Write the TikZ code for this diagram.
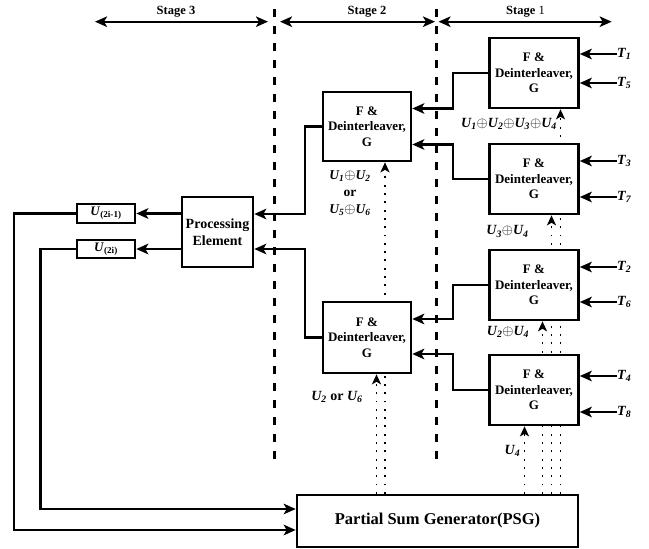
\documentclass[tikz,border=0pt]{standalone}
\usepackage{fontspec}
\setmainfont{Liberation Serif}
\usetikzlibrary{arrows.meta}
\pgfdeclarelayer{bg}
\pgfsetlayers{bg,main}
\newcommand\uu[1]{\textit{U}\textsubscript{#1}}
\newcommand\op{$\oplus$}
\begin{document}
\begin{tikzpicture}[x=1pt,y=-1pt,
  box/.style={draw,line width=2.6pt,fill=white,inner sep=0pt,align=center,
    font=\fontsize{13}{15.5}\selectfont\bfseries},
  fbox/.style={box,minimum width=89pt,minimum height=70pt},
  conn/.style={line width=2.3pt},
  arr/.style={conn,-{Stealth[length=12pt,width=10.5pt,inset=3pt]}},
  dotl/.style={line width=1.9pt,dash pattern=on 1.9pt off 6.4pt},
  darr/.style={dotl,-{Stealth[length=10pt,width=9pt,inset=2.5pt]}},
  lab/.style={inner sep=0pt,align=center,font=\fontsize{14}{15}\selectfont\bfseries\itshape},
  stg/.style={line width=2.4pt,{Stealth[length=12pt,width=10.5pt,inset=3pt]}-{Stealth[length=12pt,width=10.5pt,inset=3pt]}},
  stglab/.style={inner sep=0pt,font=\fontsize{12.5}{14}\selectfont\bfseries},
  dashl/.style={line width=2.6pt,dash pattern=on 8pt off 9pt}
]
\useasboundingbox (0,0) rectangle (649,549);

% stage markers
\coordinate (s3l) at (95,21.7);  \coordinate (s3r) at (268,21.7);
\coordinate (s2l) at (280,21.7); \coordinate (s2r) at (435,21.7);
\coordinate (s1l) at (438.5,21.7); \coordinate (s1r) at (611.7,21.7);
\draw[stg] (s3l) -- (s3r);
\draw[stg] (s2l) -- (s2r);
\draw[stg] (s1l) -- (s1r);
\node[stglab] (st3) at (176,12) {Stage 3};
\node[stglab] (st2) at (367,12) {Stage 2};
\node[stglab] (st1) at (525.5,12) {Stage {\mdseries 1}};

\coordinate (da) at (274.5,9);  \coordinate (db) at (274.5,461);
\coordinate (dc) at (436.7,9);  \coordinate (dd) at (436.7,461);
\draw[dashl] (da) -- (db);
\draw[dashl] (dc) -- (dd);

% stage 1 boxes
\node[box,minimum width=89pt,minimum height=70pt] (s1a) at (534,73) {F \&\\Deinterleaver,\\G};
\node[fbox] (s1b) at (534,179) {F \&\\Deinterleaver,\\G};
\node[fbox] (s1c) at (534,285) {F \&\\Deinterleaver,\\G};
\node[fbox] (s1d) at (534,390) {F \&\\Deinterleaver,\\G};
% stage 2 boxes
\node[box,minimum width=88pt,minimum height=69pt] (s2a) at (367,126.5) {F \&\\Deinterleaver,\\G};
\node[box,minimum width=88pt,minimum height=71pt] (s2b) at (367,337.5) {F \&\\Deinterleaver,\\G};
% processing element
\node[box,minimum width=71pt,minimum height=70pt,font=\fontsize{14}{17.5}\selectfont\bfseries] (pe) at (217.5,232) {Processing\\Element};
\node[box,minimum width=58pt,minimum height=19pt,font=\fontsize{13}{14}\selectfont\bfseries] (u1) at (106,213.5) {\textit{U}\textsubscript{(2i-1)}};
\node[box,minimum width=58pt,minimum height=18pt,font=\fontsize{13}{14}\selectfont\bfseries] (u2) at (106,249) {\textit{U}\textsubscript{(2i)}};
% PSG
\node[box,minimum width=281pt,minimum height=52pt,font=\fontsize{16.5}{18}\selectfont\bfseries] (psg) at (437.5,521) {Partial Sum Generator(PSG)};

% T inputs
\node[lab,anchor=west] (t1) at (617,54) {T\textsubscript{1}};
\node[lab,anchor=west] (t5) at (617,83) {T\textsubscript{5}};
\node[lab,anchor=west] (t3) at (617,161) {T\textsubscript{3}};
\node[lab,anchor=west] (t7) at (617,197) {T\textsubscript{7}};
\node[lab,anchor=west] (t2) at (617,267) {T\textsubscript{2}};
\node[lab,anchor=west] (t6) at (617,302) {T\textsubscript{6}};
\node[lab,anchor=west] (t4) at (617,376) {T\textsubscript{4}};
\node[lab,anchor=west] (t8) at (617,412) {T\textsubscript{8}};
\foreach \t/\b in {t1/s1a,t5/s1a,t3/s1b,t7/s1b,t2/s1c,t6/s1c,t4/s1d,t8/s1d}
  \draw[arr] (\t.west) -- (\b.east |- \t.west);

% stage1 -> stage2
\draw[arr] (s1a.west) -- ++(-35.5,0) |- ([yshift=18pt]s2a.east);
\draw[arr] (s1b.west) -- ++(-35.5,0) |- ([yshift=-18pt]s2a.east);
\draw[arr] (s1c.west) -- ++(-35.5,0) |- ([yshift=18.5pt]s2b.east);
\draw[arr] (s1d.west) -- ++(-35.5,0) |- ([yshift=-16.5pt]s2b.east);
% stage2 -> PE
\draw[arr] (s2a.west) -- ++(-17,0) |- ([yshift=18pt]pe.east);
\draw[arr] (s2b.west) -- ++(-17,0) |- ([yshift=-17pt]pe.east);
% PE -> outputs
\draw[arr] (pe.west |- u1.east) -- (u1.east);
\draw[arr] (pe.west |- u2.east) -- (u2.east);
% outputs -> PSG
\draw[arr] (u1.west) -- ++(-62,0) |- ([yshift=-9pt]psg.west);
\draw[arr] (u2.west) -- ++(-35.3,0) |- ([yshift=12pt]psg.west);

% dotted partial-sum lines
\begin{pgfonlayer}{bg}
\draw[darr] (psg.north -| 524.5,0) -- (s1d.south -| 524.5,0);
\draw[darr] (psg.north -| 542.5,0) -- (s1c.south -| 542.5,0);
\draw[darr] (psg.north -| 551.5,0) -- (s1b.south -| 551.5,0);
\draw[darr] (psg.north -| 560.5,0) -- (s1a.south -| 560.5,0);
\draw[darr] (psg.north -| 376.5,0) -- (s2b.south -| 376.5,0);
\draw[darr] (psg.north -| 385,0) -- (s2a.south -| 385,0);
\end{pgfonlayer}

% labels
\node[lab] (l1) at (509,124) {\uu{1}\op\uu{2}\op\uu{3}\op\uu{4}};
\node[lab] (l2) at (507.5,231.5) {\uu{3}\op\uu{4}};
\node[lab] (l3) at (508,332) {\uu{2}\op\uu{4}};
\node[lab] (l4) at (512.5,451) {\uu{4}};
\node[lab,font=\fontsize{13.5}{17}\selectfont\bfseries\itshape] (l5) at (350,193) {\uu{1}\op\uu{2}\\{\upshape or}\\\uu{5}\op\uu{6}};
\node[lab] (l6) at (337,397) {\uu{2} {\upshape or} \uu{6}};
\end{tikzpicture}
\end{document}
